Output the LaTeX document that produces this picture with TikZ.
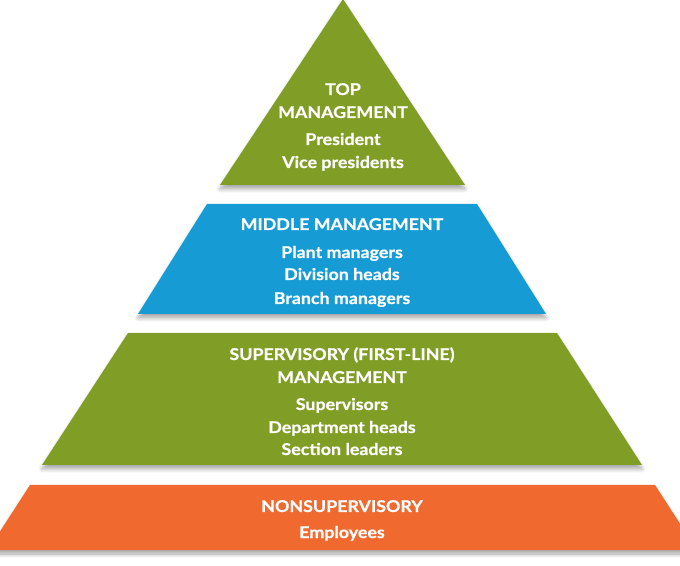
\documentclass[tikz,border=0pt]{standalone}
\usepackage{fontspec}
\setmainfont{Lato}[FakeStretch=1.1, BoldFeatures={FakeBold=0.6}]
\usetikzlibrary{shadows.blur}
\definecolor{tiergreen}{RGB}{128,158,38}
\definecolor{tierblue}{RGB}{22,155,212}
\definecolor{tierorange}{RGB}{240,106,48}
\tikzset{
  tier/.style={blur shadow={shadow xshift=0pt, shadow yshift=-4pt, shadow blur steps=10, shadow blur radius=4pt, shadow opacity=35}},
  head/.style={text=white, font=\bfseries\fontsize{16.2}{19}\selectfont, anchor=base, inner sep=0pt},
  item/.style={head}
}
\begin{document}
\begin{tikzpicture}[x=1pt,y=1pt]
\useasboundingbox (0,0) rectangle (680,565);
\clip (0,0) rectangle (680,565);
% top triangle
\fill[tiergreen, tier] (343,566) -- (465,380) -- (220,380) -- cycle;
% middle trapezoid
\fill[tierblue, tier] (207,361) -- (477,361) -- (546,251) -- (138,251) -- cycle;
% supervisory trapezoid
\fill[tiergreen, tier] (128,232) -- (557,232) -- (642,100) -- (42,100) -- cycle;
% nonsupervisory trapezoid
\fill[tierorange, tier] (30,80) -- (655,80) -- (697,15) -- (-12,15) -- cycle;
% texts
\node[head] (t1) at (343,470) {TOP};
\node[head] (t2) at (343,447) {MANAGEMENT};
\node[item] (t3) at (343,420) {President};
\node[item] (t4) at (343,397) {Vice presidents};
\node[head] (m1) at (342,335) {MIDDLE MANAGEMENT};
\node[item] (m2) at (342,307) {Plant managers};
\node[item] (m3) at (342,285) {Division heads};
\node[item] (m4) at (342,261) {Branch managers};
\node[head] (s1) at (342,205) {SUPERVISORY (FIRST-LINE)};
\node[head] (s2) at (342,182) {MANAGEMENT};
\node[item] (s3) at (342,155) {Supervisors};
\node[item] (s4) at (342,132) {Department heads};
\node[item] (s5) at (342,110) {Section leaders};
\node[head] (n1) at (342,53) {NONSUPERVISORY};
\node[item] (n2) at (342,27) {Employees};
\end{tikzpicture}
\end{document}
